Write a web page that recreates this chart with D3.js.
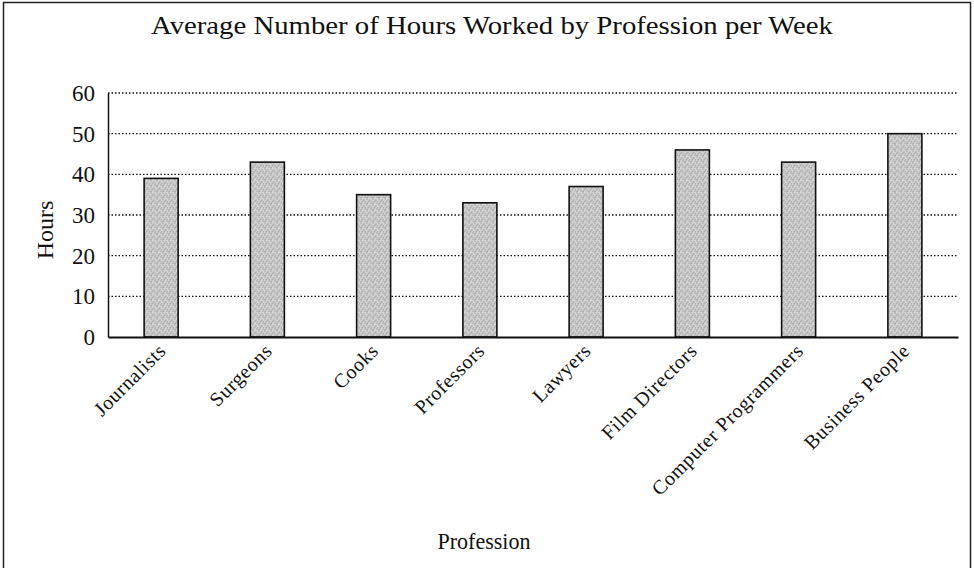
<!DOCTYPE html>
<html><head><meta charset="utf-8">
<script src="https://cdn.jsdelivr.net/npm/d3@7"></script>
<style>html,body{margin:0;padding:0;background:#fff;}svg{display:block;}</style>
</head><body>
<svg id="chart" width="974" height="568"></svg>
<script>
const categories = ["Journalists","Surgeons","Cooks","Professors","Lawyers","Film Directors","Computer Programmers","Business People"];
const hours = [39, 43, 35, 33, 37, 46, 43, 50];
const yTicks = [0, 10, 20, 30, 40, 50, 60];
const title = "Average Number of Hours Worked by Profession per Week";
const xTitle = "Profession";
const yTitle = "Hours";

const svg = d3.select("#chart");
const font = "Liberation Serif, DejaVu Serif, serif";
const plotL = 108, plotR = 958, plotT = 93, plotB = 337;

const defs = svg.append("defs");
const pat = defs.append("pattern").attr("id","stip").attr("patternUnits","userSpaceOnUse").attr("width",6).attr("height",6);
pat.append("rect").attr("width",6).attr("height",6).attr("fill","#d2d2d2");
[[0.5,0.5],[3.5,1.5],[1.5,3.5],[4.5,4.5],[2.5,2.5],[5.5,3],[0.5,5]].forEach(p=>pat.append("rect").attr("x",p[0]).attr("y",p[1]).attr("width",1).attr("height",1).attr("fill","#888"));

// border
svg.append("rect").attr("x",3.5).attr("y",2.5).attr("width",967).attr("height",570).attr("fill","none").attr("stroke","#222").attr("stroke-width",1.5);

const x = d3.scaleBand().domain(categories).range([plotL,plotR]).paddingInner(0.68).paddingOuter(0.34);
const y = d3.scaleLinear().domain([0,60]).range([plotB,plotT]);

// gridlines
svg.append("g").selectAll("line").data(yTicks.filter(d=>d>0)).join("line")
  .attr("x1",plotL).attr("x2",plotR).attr("y1",d=>y(d)).attr("y2",d=>y(d))
  .attr("stroke","#111").attr("stroke-width",1.4).attr("stroke-dasharray","1.5,2");

// y axis
const ya = svg.append("g").attr("transform",`translate(${plotL},0)`)
  .call(d3.axisLeft(y).tickValues(yTicks).tickSize(0).tickPadding(13));
ya.select(".domain").attr("stroke","#111").attr("stroke-width",1.5);
ya.selectAll(".tick text").attr("font-family",font).attr("font-size",23).attr("fill","#111");

// bars
svg.append("g").selectAll("rect").data(hours).join("rect")
  .attr("x",(d,i)=>x(categories[i])).attr("width",x.bandwidth())
  .attr("y",d=>y(d)).attr("height",d=>y(0)-y(d))
  .attr("fill","url(#stip)").attr("stroke","#111").attr("stroke-width",1.6);

// x axis
const xa = svg.append("g").attr("transform",`translate(0,${plotB})`)
  .call(d3.axisBottom(x).tickSize(0).tickPadding(0));
xa.select(".domain").attr("stroke","#111").attr("stroke-width",1.8);
xa.selectAll(".tick text").attr("font-family",font).attr("font-size",20).attr("fill","#111")
  .attr("letter-spacing",0.6)
  .attr("text-anchor","end").attr("dy",0)
  .attr("transform","translate(6,15) rotate(-45)");

// titles
svg.append("text").attr("x",492).attr("y",34).attr("text-anchor","middle")
  .attr("font-family",font).attr("font-size",25).attr("fill","#111")
  .attr("textLength",682).attr("lengthAdjust","spacingAndGlyphs").text(title);
svg.append("text").attr("x",484).attr("y",549).attr("text-anchor","middle")
  .attr("font-family",font).attr("font-size",24).attr("fill","#111")
  .attr("textLength",93).attr("lengthAdjust","spacingAndGlyphs").text(xTitle);
svg.append("text").attr("transform","translate(53,230) rotate(-90)").attr("text-anchor","middle")
  .attr("font-family",font).attr("font-size",24).attr("fill","#111").text(yTitle);
</script>
</body></html>
